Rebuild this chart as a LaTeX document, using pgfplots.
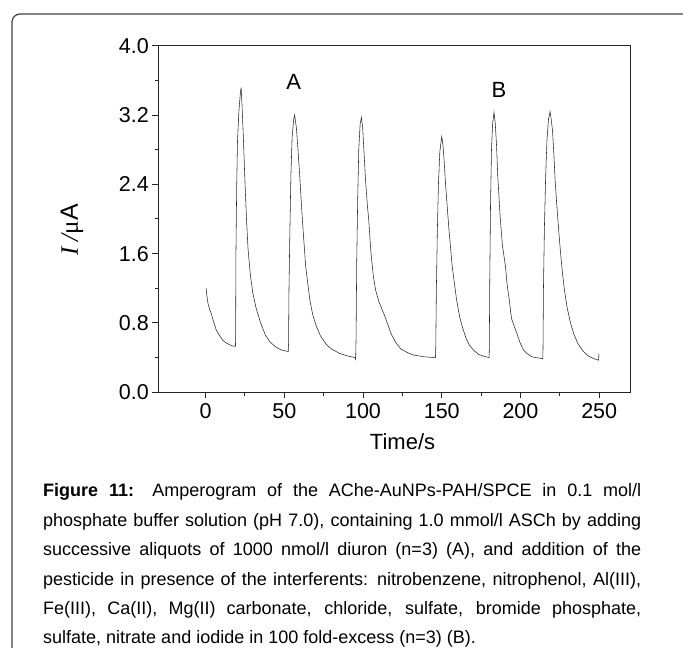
\documentclass[border=0pt]{standalone}
\usepackage{fontspec}
\setmainfont{Liberation Sans}
\newfontfamily\timesfont{Liberation Serif}
\usepackage{pgfplots}
\pgfplotsset{compat=1.18}

% amperometric trace: time [s], current [uA]
\pgfplotstableread{
t I
0.4 1.20
0.8 1.12
1.5 1.03
2.5 0.96
3.6 0.91
5.0 0.82
6.8 0.72
9.0 0.65
11.0 0.60
13.0 0.57
15.3 0.55
17.0 0.535
19.0 0.53
19.1 0.62
19.3 1.60
19.8 2.40
20.3 2.90
21.2 3.25
22.1 3.45
22.6 3.52
23.2 3.30
24.0 2.95
25.0 2.45
26.0 2.00
27.0 1.65
28.5 1.35
30.0 1.15
32.0 0.98
35.0 0.80
38.0 0.66
41.0 0.58
44.8 0.52
48.0 0.49
52.5 0.47
52.7 0.55
53.0 1.20
53.6 1.90
54.2 2.50
55.0 2.95
56.0 3.15
56.6 3.20
57.7 3.05
58.7 2.80
59.8 2.50
61.5 1.99
63.6 1.45
66.2 1.07
68.0 0.90
70.4 0.76
73.0 0.65
76.8 0.55
80.0 0.50
85.0 0.45
90.0 0.42
95.2 0.40
95.3 0.37
95.4 0.45
95.6 0.62
96.0 1.50
96.6 2.20
97.3 2.80
98.2 3.10
99.0 3.17
99.8 3.05
100.7 2.75
101.6 2.45
102.8 2.15
103.6 2.00
105.0 1.62
106.5 1.35
108.0 1.18
110.0 1.05
113.8 0.88
118.0 0.67
121.0 0.57
124.0 0.50
128.0 0.46
132.0 0.43
138.7 0.41
146.0 0.40
146.2 0.50
146.6 1.20
147.2 1.85
147.9 2.40
148.8 2.78
150.0 2.95
150.8 2.85
151.5 2.68
152.5 2.38
154.4 1.92
156.6 1.46
159.4 1.07
161.5 0.86
163.5 0.73
165.5 0.62
167.7 0.54
170.0 0.49
173.2 0.44
176.0 0.42
180.1 0.40
180.2 0.50
180.5 1.30
181.0 2.20
181.6 2.80
182.3 3.10
183.2 3.23
184.0 3.10
184.8 2.85
185.6 2.49
187.0 2.05
188.5 1.70
190.5 1.45
191.3 1.28
192.0 1.18
193.0 1.05
193.8 0.92
194.5 0.84
195.3 0.80
196.5 0.74
197.7 0.68
200.0 0.56
201.9 0.49
204.0 0.45
207.2 0.41
210.0 0.40
213.5 0.39
214.2 0.39
214.3 0.50
214.6 1.20
215.2 1.90
216.0 2.50
216.8 2.90
217.8 3.15
218.8 3.24
219.5 3.15
220.3 3.03
221.2 2.75
222.0 2.45
223.0 2.18
224.1 1.91
225.4 1.62
226.7 1.37
228.0 1.17
229.5 0.99
231.5 0.82
233.7 0.68
236.5 0.56
240.0 0.47
243.0 0.42
246.4 0.39
249.6 0.37
249.8 0.45
}\trace

\begin{document}
\begin{tikzpicture}[x=1pt,y=1pt]
\useasboundingbox (0,0) rectangle (683,648);
% rounded frame, only top-left part visible
\draw[line width=1.2pt, black!75] (12,-10) -- (12,626) arc[start angle=180,end angle=90,radius=8] -- (700,634);

\begin{axis}[
at={(158.3pt,255.7pt)}, anchor=south west,
width=472.4pt, height=346.6pt, scale only axis,
xmin=-30, xmax=270, ymin=0, ymax=4,
xtick={0,50,...,250}, ytick={0,0.8,...,4.0},
minor x tick num=1, minor y tick num=1,
tick pos=left, tick align=outside,
major tick length=6pt, minor tick length=3.5pt,
axis line style={line width=1.3pt, black!85},
every tick/.style={line width=1pt, black!85},
/pgf/number format/assume math mode=true,
ticklabel style={font=\fontsize{21.5}{23}\selectfont},
xticklabel style={yshift=-2pt},
yticklabel style={/pgf/number format/.cd, fixed, fixed zerofill, precision=1},
xlabel={Time/s},
xlabel style={font=\fontsize{22}{24}\selectfont, at={(axis description cs:0.517,0)}, anchor=base, yshift=-57pt},
ylabel={{\timesfont\itshape I /}{\timesfont μ}A},
ylabel style={font=\fontsize{25}{27}\selectfont, at={(axis description cs:-0.183,0.468)}, anchor=center},
clip=false,
]
\addplot[black!85, line width=0.55pt] table[x=t, y=I] {\trace};
\node[font=\fontsize{22}{24}\selectfont] at (axis cs:56,3.58) {A};
\node[font=\fontsize{22}{24}\selectfont] at (axis cs:186.4,3.49) {B};
\end{axis}

\begin{scope}[every node/.style={anchor=base west, inner sep=0pt, font=\fontsize{18}{20}\selectfont}]
\node at (43,151) {\makebox[598pt][s]{\textbf{Figure 11:} Amperogram of the AChe-AuNPs-PAH/SPCE in 0.1 mol/l}};
\node at (43,121.5) {\makebox[598pt][s]{phosphate buffer solution (pH 7.0), containing 1.0 mmol/l ASCh by adding}};
\node at (43,92) {\makebox[598pt][s]{successive aliquots of 1000 nmol/l diuron (n=3) (A), and addition of the}};
\node at (43,62.5) {\makebox[598pt][s]{pesticide in presence of the interferents: nitrobenzene, nitrophenol, Al(III),}};
\node at (43,33) {\makebox[598pt][s]{Fe(III), Ca(II), Mg(II) carbonate, chloride, sulfate, bromide phosphate,}};
\node at (43,4.5) {sulfate, nitrate and iodide in 100 fold-excess (n=3) (B).};
\end{scope}
\end{tikzpicture}
\end{document}
